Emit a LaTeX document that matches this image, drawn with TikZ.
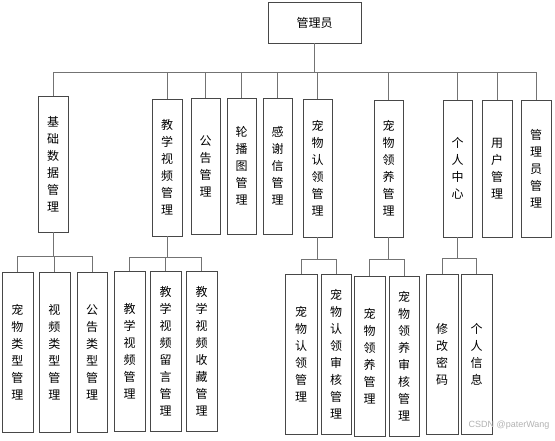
\documentclass[tikz,border=0pt]{standalone}
\usepackage{fontspec}
\newfontfamily\cjk{Noto Sans CJK SC}
\setmainfont{Liberation Sans}
\usetikzlibrary{shadows}
\tikzset{
  bx/.style={draw=black!72, fill=white, line width=0.8pt,
    drop shadow={shadow xshift=1.3pt, shadow yshift=-1.3pt, fill=black!45, opacity=0.6},
    inner sep=0pt, align=center, font=\cjk\fontsize{12}{17}\selectfont},
  ln/.style={draw=black!55, line width=0.8pt}
}
\newcommand\mybox[6]{\node[bx, minimum width={(#4)*1pt-(#2)*1pt}, minimum height={(#5)*1pt-(#3)*1pt}] (#1) at ({(#2+#4)/2},{(#3+#5)/2}) {#6};}
\begin{document}
\begin{tikzpicture}[x=1pt,y=-1pt]
\useasboundingbox (0,0) rectangle (555,441);
\mybox{root}{268}{2}{361}{43}{管理员}
% level 1
\mybox{n1}{38}{96}{68}{232}{基\\础\\数\\据\\管\\理}
\mybox{n2}{152}{99}{182}{236}{教\\学\\视\\频\\管\\理}
\mybox{n3}{191}{98}{220}{234}{公\\告\\管\\理}
\mybox{n4}{227}{98}{256}{234}{轮\\播\\图\\管\\理}
\mybox{n5}{263}{98}{292}{234}{感\\谢\\信\\管\\理}
\mybox{n6}{303}{99}{332}{237}{宠\\物\\认\\领\\管\\理}
\mybox{n7}{374}{100}{403}{237}{宠\\物\\领\\养\\管\\理}
\mybox{n8}{443}{100}{472}{237}{个\\人\\中\\心}
\mybox{n9}{482}{100}{512}{237}{用\\户\\管\\理}
\mybox{n10}{521}{100}{551}{237}{管\\理\\员\\管\\理}
% level 2
\mybox{a1}{2}{272}{33}{432}{宠\\物\\类\\型\\管\\理}
\mybox{a2}{39}{272}{70}{432}{视\\频\\类\\型\\管\\理}
\mybox{a3}{77}{272}{107}{432}{公\\告\\类\\型\\管\\理}
\mybox{b1}{114}{271}{145}{431}{教\\学\\视\\频\\管\\理}
\mybox{b2}{150}{271}{181}{431}{教\\学\\视\\频\\留\\言\\管\\理}
\mybox{b3}{186}{271}{217}{431}{教\\学\\视\\频\\收\\藏\\管\\理}
\mybox{c1}{285}{274}{317}{434}{宠\\物\\认\\领\\管\\理}
\mybox{c2}{321}{274}{351}{434}{宠\\物\\认\\领\\审\\核\\管\\理}
\mybox{d1}{354}{276}{385}{436}{宠\\物\\领\\养\\管\\理}
\mybox{d2}{389}{276}{419}{436}{宠\\物\\领\\养\\审\\核\\管\\理}
\mybox{e1}{426}{274}{458}{434}{修\\改\\密\\码}
\mybox{e2}{461}{274}{492}{434}{个\\人\\信\\息}
% connectors level 1
\coordinate (bus) at (0,72);
\draw[ln] (root.south) -- (root.south |- bus);
\draw[ln] (n1.north |- bus) -- (n10.north |- bus);
\foreach \n in {n1,n2,n3,n4,n5,n6,n7,n8,n9,n10}{
  \draw[ln] (\n.north) -- (\n.north |- bus);
}
% connectors level 2
\coordinate (ya) at (0,256);
\draw[ln] (n1.south) -- (n1.south |- ya);
\draw[ln] (a1.north |- ya) -- (a3.north |- ya);
\foreach \n in {a1,a2,a3}{\draw[ln] (\n.north) -- (\n.north |- ya);}
\coordinate (yb) at (0,257);
\draw[ln] (n2.south) -- (n2.south |- yb);
\draw[ln] (b1.north |- yb) -- (b3.north |- yb);
\foreach \n in {b1,b2,b3}{\draw[ln] (\n.north) -- (\n.north |- yb);}
\coordinate (yc) at (0,259);
\draw[ln] (n6.south) -- (n6.south |- yc);
\draw[ln] (c1.north |- yc) -- (c2.north |- yc);
\foreach \n in {c1,c2}{\draw[ln] (\n.north) -- (\n.north |- yc);}
\coordinate (yd) at (0,259);
\draw[ln] (n7.south) -- (n7.south |- yd);
\draw[ln] (d1.north |- yd) -- (d2.north |- yd);
\foreach \n in {d1,d2}{\draw[ln] (\n.north) -- (\n.north |- yd);}
\coordinate (ye) at (0,258);
\draw[ln] (n8.south) -- (n8.south |- ye);
\draw[ln] (e1.north |- ye) -- (e2.north |- ye);
\foreach \n in {e1,e2}{\draw[ln] (\n.north) -- (\n.north |- ye);}
% watermark
\node[text=black!30, font=\fontsize{9}{10}\selectfont, anchor=east] (wm) at (553,425) {CSDN @paterWang};
\end{tikzpicture}
\end{document}
